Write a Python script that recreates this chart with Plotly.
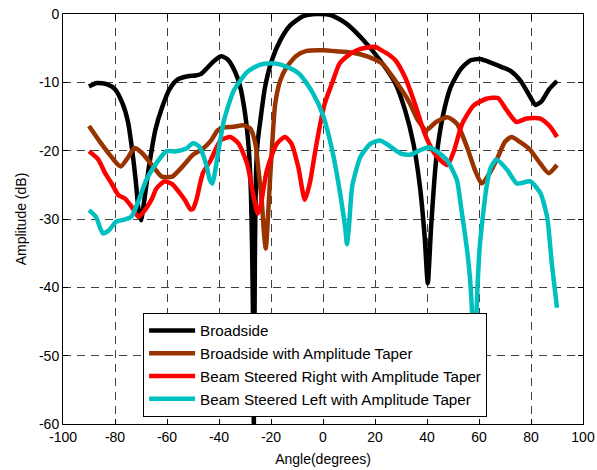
import plotly.graph_objects as go

# ---------------- data ----------------
broadside_ang = [-90, -87, -83, -80, -77, -75, -73.5, -72, -71, -70, -69, -67, -64.5, -62, -59, -56,
                 -52, -49, -47, -44.5, -42, -39, -36.5, -34, -32, -30, -28.5, -27.7, -27.3, -26.9,
                 -26.6, -26.2, -25.8, -25.2, -24.1, -22.3, -19.7, -16.5, -12.7, -7.6, -2.5, 3, 9,
                 15.5, 22, 27.9, 31.6, 34.8, 37.3, 39.1, 40.3, 41.6, 43.5, 46, 49.1, 52.9, 56.6,
                 60.4, 65, 69, 72, 76, 79.5, 81.7, 84, 87, 90]
broadside_db = [-10.6, -10.1, -10.3, -11, -13.2, -15.8, -19.6, -24.5, -28.5, -30.2, -28, -22.5, -17,
                -13.8, -11, -9.6, -9.1, -9, -8.8, -7.9, -6.9, -6.2, -6.7, -8.3, -10.4, -14.5, -20,
                -26.5, -33.5, -45, -60, -36, -23.8, -19, -15.6, -10.7, -6.8, -3.9, -1.7, -0.3, 0,
                -0.15, -1.4, -3.8, -6.8, -10.2, -14.1, -19, -25.3, -32.6, -39.4, -31, -21.4, -15.1,
                -10.7, -8.1, -6.8, -6.6, -7.2, -7.8, -8.3, -9.8, -12, -13.3, -12.8, -11, -9.8]

taper_ang = [-90, -86, -82, -79, -77.7, -75, -72.5, -69.7, -66, -62, -58, -54, -50, -46.5, -43,
             -40.5, -38, -34.3, -30.5, -27.9, -26, -24.8, -23.5, -22.6, -22, -21.2, -20.5, -19.7,
             -18.4, -16.5, -14, -10.2, -6.3, 0, 6.3, 12, 17, 22.9, 27.9, 32.9, 36.6, 39.8, 43.5,
             47.9, 51.6, 55.4, 58.5, 61, 64.1, 67.3, 70, 72.5, 76, 79.7, 83.6, 86.8, 90]
taper_db = [-16.4, -18.6, -20.6, -22, -22.3, -21, -19.6, -20.3, -22, -23.8, -23.8, -22.3, -20.6,
            -19.8, -18.5, -17, -16.6, -16.5, -16.3, -16.8, -19, -22.9, -27.7, -32.5, -34.3, -30,
            -25, -20, -13.2, -9.8, -7.8, -6.1, -5.4, -5.3, -5.5, -5.7, -6.2, -7.3, -9.8, -12.7,
            -15.6, -17, -15.8, -15.1, -16.1, -19.5, -22.9, -24.8, -23.3, -20.9, -18.7, -18, -18.8,
            -19.9, -21.9, -23.3, -22.1]

right_ang = [-90, -86.4, -83.8, -81.3, -78.7, -76.2, -73.6, -71, -68.5, -66, -64, -61, -58, -55.5,
             -53, -51, -50, -48.7, -46.2, -43.2, -39.4, -35.6, -32.4, -29.2, -26.7, -25.1, -24.1,
             -21.6, -17.8, -14.6, -12.1, -9.5, -7, -5.1, -2.5, 0.6, 3.8, 6.3, 9.2, 13, 17, 20,
             22.9, 25.5, 27.9, 31.6, 35.4, 39.1, 42.9, 45.5, 47.9, 50.4, 53.5, 57.9, 62.9, 67.3,
             70.5, 74.4, 78.2, 83.6, 87.4, 90]
right_db = [-20.1, -21.3, -23.3, -24.8, -26.5, -27, -28.2, -29.7, -28.7, -27.2, -25.5, -24.5,
            -24.9, -26, -27.3, -28.6, -28.5, -27.2, -23.3, -21.4, -18.5, -18, -19, -21.9, -26.7,
            -29.2, -28.2, -22.9, -19, -18, -19, -22.4, -27.2, -24.8, -19, -13.2, -9.8, -7.3, -6.2,
            -5.3, -4.9, -4.8, -5.4, -6, -6.8, -9.3, -13.2, -17.5, -20.4, -21.5, -22.1, -20, -16.1,
            -13.4, -12.4, -12.3, -14, -15.8, -15.3, -15.3, -16.5, -18]

left_ang = [-90, -87.3, -84.7, -82.2, -79.6, -76.4, -73.8, -71.3, -68, -64.2, -60.3, -56.5, -52.6,
            -50, -47.6, -45, -43.5, -42.5, -41.5, -40.6, -38.1, -34.3, -29.2, -24.1, -19, -14,
            -9, -4, 0, 3.8, 6.7, 8.6, 9.2, 9.9, 11.2, 13, 14.4, 18.2, 22, 25.9, 29.7, 33.6, 37,
            40.6, 43.8, 47.7, 51.5, 52.9, 55.4, 56.5, 57.3, 58.2, 59.2, 60.4, 62.9, 64.5, 66.7,
            70.8, 74.6, 79.7, 83.6, 86.2, 88, 90]
left_db = [-28.7, -29.7, -32.1, -31.6, -30.4, -30.1, -29.7, -27.7, -24.3, -21.9, -20.1, -20.1,
           -19.7, -18.9, -19.4, -21.9, -24.3, -24.8, -23, -20.9, -15.6, -11.2, -8.5, -7.4, -7.2,
           -7.7, -8.8, -11.5, -14.8, -20.4, -26.5, -31.5, -33.7, -31.5, -25.3, -22.5, -20.9, -19,
           -18.5, -19.4, -20.4, -20.6, -20, -19.5, -20.1, -21.4, -24.3, -27.7, -34.5, -38.5,
           -43.5, -56, -42, -33.5, -25.3, -22.5, -21.3, -22.8, -24.8, -24.5, -26.2, -29.7, -36.5,
           -43]

series_names = ["Broadside", "Broadside with Amplitude Taper",
                "Beam Steered Right with Amplitude Taper", "Beam Steered Left with Amplitude Taper"]
series_colors = ["#000000", "#993300", "#FF0000", "#00BFBF"]

x_ticks = [-100, -80, -60, -40, -20, 0, 20, 40, 60, 80, 100]
y_ticks = [-60, -50, -40, -30, -20, -10, 0]

FONT = "Liberation Sans, Arial, sans-serif"

fig = go.Figure()
for name, color, xs, ys in zip(series_names, series_colors,
                               [broadside_ang, taper_ang, right_ang, left_ang],
                               [broadside_db, taper_db, right_db, left_db]):
    fig.add_trace(go.Scatter(x=xs, y=ys, mode="lines", name=name,
                             line=dict(color=color, width=4.5, shape="spline", smoothing=0.6)))

axis_common = dict(showline=True, linecolor="black", linewidth=1, mirror="allticks",
                   ticks="inside", ticklen=5, tickcolor="black", automargin=False,
                   showgrid=True, gridcolor="#404040", gridwidth=1, griddash="8px,6px",
                   zeroline=False, tickfont=dict(family=FONT, size=14, color="black"))

fig.update_xaxes(range=[-100, 100], tickvals=x_ticks, ticktext=[str(v) for v in x_ticks],
                 title=dict(text="Angle(degrees)", font=dict(family=FONT, size=14, color="black"),
                            standoff=10),
                 **axis_common)
fig.update_yaxes(range=[-60, 0], tickvals=y_ticks, ticktext=[str(v) for v in y_ticks],
                 title=dict(text="Amplitude (dB)", font=dict(family=FONT, size=14, color="black"),
                            standoff=9),
                 **axis_common)

fig.update_layout(
    width=597, height=470,
    margin=dict(l=63, r=14, t=14, b=46),
    paper_bgcolor="white", plot_bgcolor="white",
    font=dict(family=FONT, size=14, color="black"),
    legend=dict(x=0.154, y=0.017, xanchor="left", yanchor="bottom",
                bgcolor="white", bordercolor="black", borderwidth=1,
                font=dict(family=FONT, size=15.2, color="black"),
                itemwidth=46, tracegroupgap=0),
    showlegend=True,
)

fig.write_html("out.html")
